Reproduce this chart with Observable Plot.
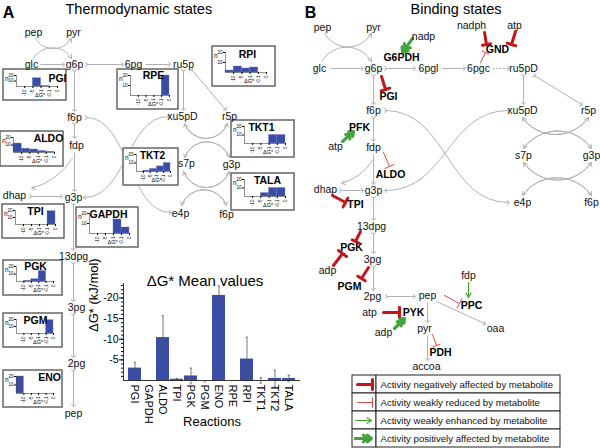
<!DOCTYPE html>
<html>
<head>
<meta charset="utf-8">
<script src="https://cdn.jsdelivr.net/npm/d3@7"></script>
<script src="https://cdn.jsdelivr.net/npm/@observablehq/plot@0.6"></script>
<style>
  html,body{margin:0;padding:0;background:#fff;}
  #fig{position:relative;width:600px;height:448px;overflow:hidden;background:#fff;}
  #fig > div{position:absolute;}
  #fig svg{display:block;max-width:none;overflow:visible;}
</style>
</head>
<body>
<div id="fig"></div>
<script>
// ================= DATA =================
const reactions = ["PGI","GAPDH","ALDO","TPI","PGK","PGM","ENO","RPE","RPI","TKT1","TKT2","TALA"];
const meanDG    = [-3.0, 0, -10.4, -0.3, -1.1, 0.2, -20.6, 0, -5.2, 0, -0.5, -0.5];
const errDG     = [1.4, 0, 5.3, 0.2, 1.9, 0.2, 2.3, 0, 5.3, 0.7, 2.0, 0.8];
const yTickVals = [-20, -15, -10, -5];
const binLabels = ["-10", "-5", "-1", "-0.1", "0"];

// histogram counts per reaction (bins: <-10, -10..-5, -5..-1, -1..-0.1, -0.1..0)
const nPGI   = [0, 0, 15, 1, 0];
const nRPE   = [0, 0, 0, 0, 20];
const nRPI   = [2, 6, 4, 5, 0];
const nALDO  = [12, 5, 4, 2, 1];
const nTKT1  = [0, 0, 0, 10, 10];
const nTKT2  = [0, 1, 3, 6, 10];
const nTALA  = [0, 0, 4, 10, 10];
const nTPI   = [0, 0, 0, 0, 19];
const nGAPDH = [0, 0, 0, 14, 6];
const nPGK   = [0, 1, 3, 14, 0];
const nPGM   = [0, 0, 0, 0, 19];
const nENO   = [20, 0, 0, 0, 0];

const legendTexts = [
  "Activity negatively affected by metabolite",
  "Activity weakly reduced by metabolite",
  "Activity weakly enhanced by metabolite",
  "Activity positively affected by metabolite"
];

// ================= DIAGRAM LAYOUT =================
const metabA = [["pep",33,32],["pyr",73,32],["glc",31,64],["g6p",74,64],["6pg",133,64],["ru5p",183,64],
  ["f6p",74,117],["fdp",76,145],["xu5pD",182,116],["r5p",229,116],["s7p",186,163],["g3p",231,164],
  ["e4p",180,213],["f6p",226,214],["dhap",14,195],["g3p",73,197],["13dpg",73,256],["3pg",76,307],
  ["2pg",76,363],["pep",73,413]];
const metabB = [["pep",322,27],["pyr",373,27],["nadp",423,36],["nadph",471,25],["atp",514,25],
  ["glc",319,68],["g6p",373,68],["6pgl",428,68],["6pgc",478,68],["ru5pD",523,68],
  ["f6p",373,110],["xu5pD",522,110],["r5p",588,110],["atp",335,146],["fdp",373,147],
  ["s7p",523,155],["g3p",591,155],["dhap",325,189],["g3p",373,190],["e4p",522,202],["f6p",591,202],
  ["13dpg",371,226],["adp",327,270],["3pg",372,259],["fdp",468,275],["2pg",372,296],["pep",427,295],
  ["atp",369,312],["adp",383,332],["pyr",424,328],["oaa",495,328],["accoa",426,366]];
const enzB = [["G6PDH",401,57],["GND",497,49],["PGI",388,96],["PFK",359,127],["ALDO",390,174],
  ["TPI",355,204],["PGK",351,247],["PGM",349,286],["PYK",413,312],["PPC",471,305],["PDH",440,352]];

// gray reaction edges [x1,y1,x2,y2]
const edgeOne = [[40,64,63,64],[145,64,169,64],[74,152,74,190],
  [330,68,362,68],[441,68,464,68],[373,154,373,183],[427,302,427,321],[427,335,427,359],[436,301,484,323]];
const edgeDash = [[492,68,508,68]];
const edgeTwo = [[86,64,122,64],[74,70,74,110],[74,123,74,137],[30,196,61,196],[73,204,73,249],
  [73,263,73,300],[73,314,73,356],[73,370,73,405],[183,70,183,109],[191,69,225,109],
  [385,68,414,68],[373,75,373,103],[373,117,373,140],[340,190,362,190],[373,197,373,219],
  [373,233,373,252],[373,266,373,289],[386,296,414,296],[523,75,523,103],[534,75,581,104]];
const edgeS = [[86,117,170,212],[168,116,84,197],[385,110,508,202],[508,110,385,190]];
// arcs: cap (bulge up) and cup (sag down), drawn left->right
const capA = [[184,157,229,157],[181,205,226,205]];
const cupA = [[184,123,227,123],[183,171,229,171]];
const capB = [[523,148,591,148],[522,195,591,195]];
const cupB = [[522,117,588,117],[523,162,591,162]];
const ptsCup = [[35,38,71,38],[324,33,371,33]];
const ptsCap = [[33,58,71,58],[321,61,371,61]];
const dhapCurve = [[72,158,31,188],[372,160,341,183]];

// regulation arrows
const strongInh = [[381,76,385,89],[484,32,486,44],[515,31,511,44],[332,195,345,202],[360,231,355,241],
  [333,265,342,253],[368,267,361,278],[383,312,399,312]];
const weakInh = [[480,62,485,52],[383,152,389,166],[444,295,459,303],[432,334,436,345]];
const strongAct = [[412,38,402,52],[342,141,353,131],[394,328,404,318]];
const weakAct = [[468,282,468,297]];

// histogram boxes: [name, counts, x, y, w, h, titleX, titleY, titleSize]
const boxes = [
  ["PGI", nPGI, 3, 69, 63, 31, 54, 9, 10.5],
  ["RPE", nRPE, 117, 69, 61, 40, 36, 6, 10.5],
  ["RPI", nRPI, 212, 46, 63, 40, 35, 8, 10.5],
  ["ALDO", nALDO, 0, 131, 63, 35, 48, 7, 10.5],
  ["TKT1", nTKT1, 231, 120, 63, 37, 30, 7, 10.5],
  ["TKT2", nTKT2, 123, 148, 55, 37, 29, 7, 10],
  ["TALA", nTALA, 231, 173, 63, 37, 36, 7, 10.5],
  ["TPI", nTPI, 2, 204, 62, 34, 33, 7, 10.5],
  ["GAPDH", nGAPDH, 76, 207, 62, 40, 32, 7, 10.5],
  ["PGK", nPGK, 3, 260, 59, 35, 32, 6, 10.5],
  ["PGM", nPGM, 3, 313, 59, 34, 32, 7, 10.5],
  ["ENO", nENO, 3, 370, 59, 37, 46, 7, 10.5]
];

// ================= DRAWING =================
const FONT = '"Liberation Sans", Arial, Helvetica, sans-serif';
const GRAY = "#b2b2b2", RED = "#c3161c", RED2 = "#e04a4f", GREEN = "#44a33b", BLUE = "#3a4ca6";
const fig = document.getElementById("fig");
function place(node, x, y, w, h) {
  const d = document.createElement("div");
  d.style.left = x + "px"; d.style.top = y + "px";
  d.style.width = w + "px"; d.style.height = h + "px";
  d.appendChild(node); fig.appendChild(d);
}
const X1 = d => d[0], Y1 = d => d[1], X2 = d => d[2], Y2 = d => d[3];
const rev = arr => arr.map(d => [d[2], d[3], d[0], d[1]]);

const main = Plot.plot({
  width: 600, height: 448, margin: 0,
  x: {domain: [0, 600], range: [0, 600], axis: null},
  y: {domain: [0, 448], range: [0, 448], axis: null},
  style: {fontFamily: FONT, fontSize: "10.5px", background: "white"},
  marks: [
    Plot.link(edgeOne, {x1: X1, y1: Y1, x2: X2, y2: Y2, stroke: GRAY, strokeWidth: 1, markerEnd: "arrow"}),
    Plot.link(edgeDash, {x1: X1, y1: Y1, x2: X2, y2: Y2, stroke: GRAY, strokeWidth: 1, strokeDasharray: "2,1.5", markerEnd: "arrow"}),
    Plot.link(edgeTwo, {x1: X1, y1: Y1, x2: X2, y2: Y2, stroke: GRAY, strokeWidth: 1, markerStart: "arrow", markerEnd: "arrow"}),
    Plot.link(edgeS, {x1: X1, y1: Y1, x2: X2, y2: Y2, curve: "bump-x", stroke: GRAY, strokeWidth: 1, markerStart: "arrow", markerEnd: "arrow"}),
    Plot.arrow(capA.concat(rev(cupA)), {x1: X1, y1: Y1, x2: X2, y2: Y2, bend: 70, stroke: GRAY, strokeWidth: 1, headLength: 6}),
    Plot.arrow(cupA.concat(rev(capA)), {x1: X1, y1: Y1, x2: X2, y2: Y2, bend: -70, stroke: GRAY, strokeWidth: 1, headLength: 6}),
    Plot.arrow(capB.concat(rev(cupB)), {x1: X1, y1: Y1, x2: X2, y2: Y2, bend: 55, stroke: GRAY, strokeWidth: 1, headLength: 6}),
    Plot.arrow(cupB.concat(rev(capB)), {x1: X1, y1: Y1, x2: X2, y2: Y2, bend: -55, stroke: GRAY, strokeWidth: 1, headLength: 6}),
    Plot.arrow(ptsCap, {x1: X1, y1: Y1, x2: X2, y2: Y2, bend: 60, stroke: GRAY, strokeWidth: 1, headLength: 6}),
    Plot.arrow(ptsCup, {x1: X1, y1: Y1, x2: X2, y2: Y2, bend: -60, stroke: GRAY, strokeWidth: 1, headLength: 6}),
    Plot.arrow(dhapCurve, {x1: X1, y1: Y1, x2: X2, y2: Y2, bend: 20, stroke: GRAY, strokeWidth: 1, headLength: 6}),
    // regulation
    Plot.arrow(strongInh, {x1: X1, y1: Y1, x2: X2, y2: Y2, stroke: RED, strokeWidth: 3, headAngle: 180, headLength: 6}),
    Plot.arrow(weakInh, {x1: X1, y1: Y1, x2: X2, y2: Y2, stroke: RED2, strokeWidth: 1, headAngle: 180, headLength: 8}),
    Plot.arrow(strongAct, {x1: X1, y1: Y1, x2: X2, y2: Y2, stroke: GREEN, strokeWidth: 3, headAngle: 80, headLength: 3}),
    Plot.arrow(strongAct, {x1: X1, y1: Y1, x2: X2, y2: Y2, stroke: GREEN, strokeWidth: 3, headAngle: 80, headLength: 3, insetEnd: 4}),
    Plot.arrow(weakAct, {x1: X1, y1: Y1, x2: X2, y2: Y2, stroke: GREEN, strokeWidth: 1.2, headLength: 7}),
    // boxes
    Plot.rect(boxes, {x1: d => d[2], y1: d => d[3], x2: d => d[2] + d[4], y2: d => d[3] + d[5], fill: "white", stroke: "#666", strokeWidth: 1.5}),
    // labels
    Plot.text(metabA.concat(metabB), {x: d => d[1], y: d => d[2], text: d => d[0], fill: "#111", fontSize: 10.5}),
    Plot.text(enzB, {x: d => d[1], y: d => d[2], text: d => d[0], fill: "#000", fontSize: 10.5, fontWeight: "bold"}),
    Plot.text(["A", "B"], {x: (d, i) => [8, 310][i], y: 12, text: d => d, fontSize: 16, fontWeight: "bold"}),
    Plot.text(["Thermodynamic states", "Binding states"], {x: (d, i) => [65, 410][i], y: 9, text: d => d, textAnchor: "start", fontSize: 14.5}),
    // legend
    Plot.rect(legendTexts, {x1: 352, x2: 376, y1: (d, i) => 375 + 18 * i, y2: (d, i) => 393 + 18 * i, fill: "white", stroke: "#222", strokeWidth: 1}),
    Plot.rect(legendTexts, {x1: 376, x2: 560, y1: (d, i) => 375 + 18 * i, y2: (d, i) => 393 + 18 * i, fill: "white", stroke: "#222", strokeWidth: 1}),
    Plot.text(legendTexts, {x: 380, y: (d, i) => 384 + 18 * i, text: d => d, textAnchor: "start", fontSize: 9.6, fill: "#111"}),
    Plot.arrow([legendTexts[0]], {x1: 357, x2: 372, y1: 384, y2: 384, stroke: RED, strokeWidth: 3, headAngle: 180, headLength: 6}),
    Plot.arrow([legendTexts[1]], {x1: 357, x2: 372, y1: 402, y2: 402, stroke: RED2, strokeWidth: 1, headAngle: 180, headLength: 8}),
    Plot.arrow([legendTexts[2]], {x1: 355, x2: 371, y1: 420, y2: 420, stroke: GREEN, strokeWidth: 1.2, headLength: 7}),
    Plot.arrow([legendTexts[3]], {x1: 355, x2: 371, y1: 438, y2: 438, stroke: GREEN, strokeWidth: 3, headAngle: 80, headLength: 3}),
    Plot.arrow([legendTexts[3]], {x1: 355, x2: 371, y1: 438, y2: 438, stroke: GREEN, strokeWidth: 3, headAngle: 80, headLength: 3, insetEnd: 4})
  ]
});
place(main, 0, 0, 600, 448);

// mini histograms
for (const [name, counts, bx, by, bw, bh, tx, ty, ts] of boxes) {
  const ml = 13, mr = bw < 58 ? 8 : 9, mt = 6, mb = 14;
  const bins = counts.map((c, i) => ({i, c}));
  const p = Plot.plot({
    width: bw, height: bh, marginLeft: ml, marginRight: mr, marginTop: mt, marginBottom: mb,
    x: {domain: [0, 5], axis: null}, y: {domain: [0, 20], axis: null},
    style: {fontFamily: FONT, fontSize: "5px", background: "transparent", overflow: "visible"},
    marks: [
      Plot.rectY(bins, {x1: d => d.i, x2: d => d.i + 1, y: "c", fill: BLUE, stroke: "#6d7bc0", strokeWidth: 0.4}),
      Plot.ruleY([0], {stroke: "#444", strokeWidth: 0.6}),
      Plot.ruleX([0], {stroke: "#444", strokeWidth: 0.6}),
      Plot.axisX({ticks: [1, 2, 3, 4, 5], tickFormat: i => binLabels[i - 1], tickRotate: -90, tickSize: 2, tickPadding: 1, label: null, fontSize: 4.5}),
      Plot.axisY({ticks: [10, 20], tickSize: 2, tickPadding: 1, label: null, fontSize: 4.5}),
      Plot.text(["n"], {frameAnchor: "top-left", dx: 1.5 - ml, dy: 1, fontSize: 6.5}),
      Plot.text(["ΔG*"], {frameAnchor: "bottom", dy: mb - 3.5, dx: 3, fontSize: 5.5}),
      Plot.text([name], {frameAnchor: "top-left", dx: tx - ml, dy: ty - mt, textAnchor: "middle", lineAnchor: "middle", fontSize: ts, fontWeight: "bold"})
    ]
  });
  place(p, bx, by, bw, bh);
}

// bar chart of mean values
const barData = reactions.map((r, i) => ({r, v: meanDG[i], e: errDG[i]}));
const bar = Plot.plot({
  width: 245, height: 180, marginLeft: 63, marginRight: 5, marginTop: 21, marginBottom: 62,
  x: {domain: reactions, padding: 0.08, axis: null},
  y: {domain: [0, -23.5], axis: null},
  style: {fontFamily: FONT, fontSize: "11px", background: "transparent", overflow: "visible"},
  marks: [
    Plot.barY(barData, {x: "r", y: "v", fill: BLUE}),
    Plot.ruleX(barData, {x: "r", y1: d => d.v - d.e, y2: d => d.v + d.e, stroke: "#555", strokeWidth: 0.8}),
    Plot.tickY(barData, {x: "r", y: d => d.v - d.e, insetLeft: 5.5, insetRight: 5.5, stroke: "#555", strokeWidth: 0.8}),
    Plot.tickY(barData, {x: "r", y: d => d.v + d.e, insetLeft: 5.5, insetRight: 5.5, stroke: "#555", strokeWidth: 0.8}),
    Plot.ruleY([0], {stroke: "#333", strokeWidth: 1}),
    Plot.frame({anchor: "left", stroke: "#333", strokeWidth: 1}),
    Plot.axisY({ticks: d3.range(-23, 0), tickSize: 2, tickFormat: () => "", label: null}),
    Plot.axisY({ticks: yTickVals, tickSize: 4, tickPadding: 1, tickFormat: d => String(d), label: null, fontSize: 10.5}),
    Plot.axisX({tickRotate: 90, tickSize: 0, tickPadding: 4, label: null, fontSize: 11}),
    Plot.text(["ΔG* (kJ/mol)"], {frameAnchor: "left", dx: -30, rotate: -90, fontSize: 13}),
    Plot.text(["Reactions"], {frameAnchor: "bottom", dy: 45, fontSize: 13}),
    Plot.text(["ΔG* Mean values"], {frameAnchor: "top", dx: -7, dy: -8, fontSize: 15})
  ]
});
place(bar, 60, 262, 245, 180);
</script>
</body>
</html>
